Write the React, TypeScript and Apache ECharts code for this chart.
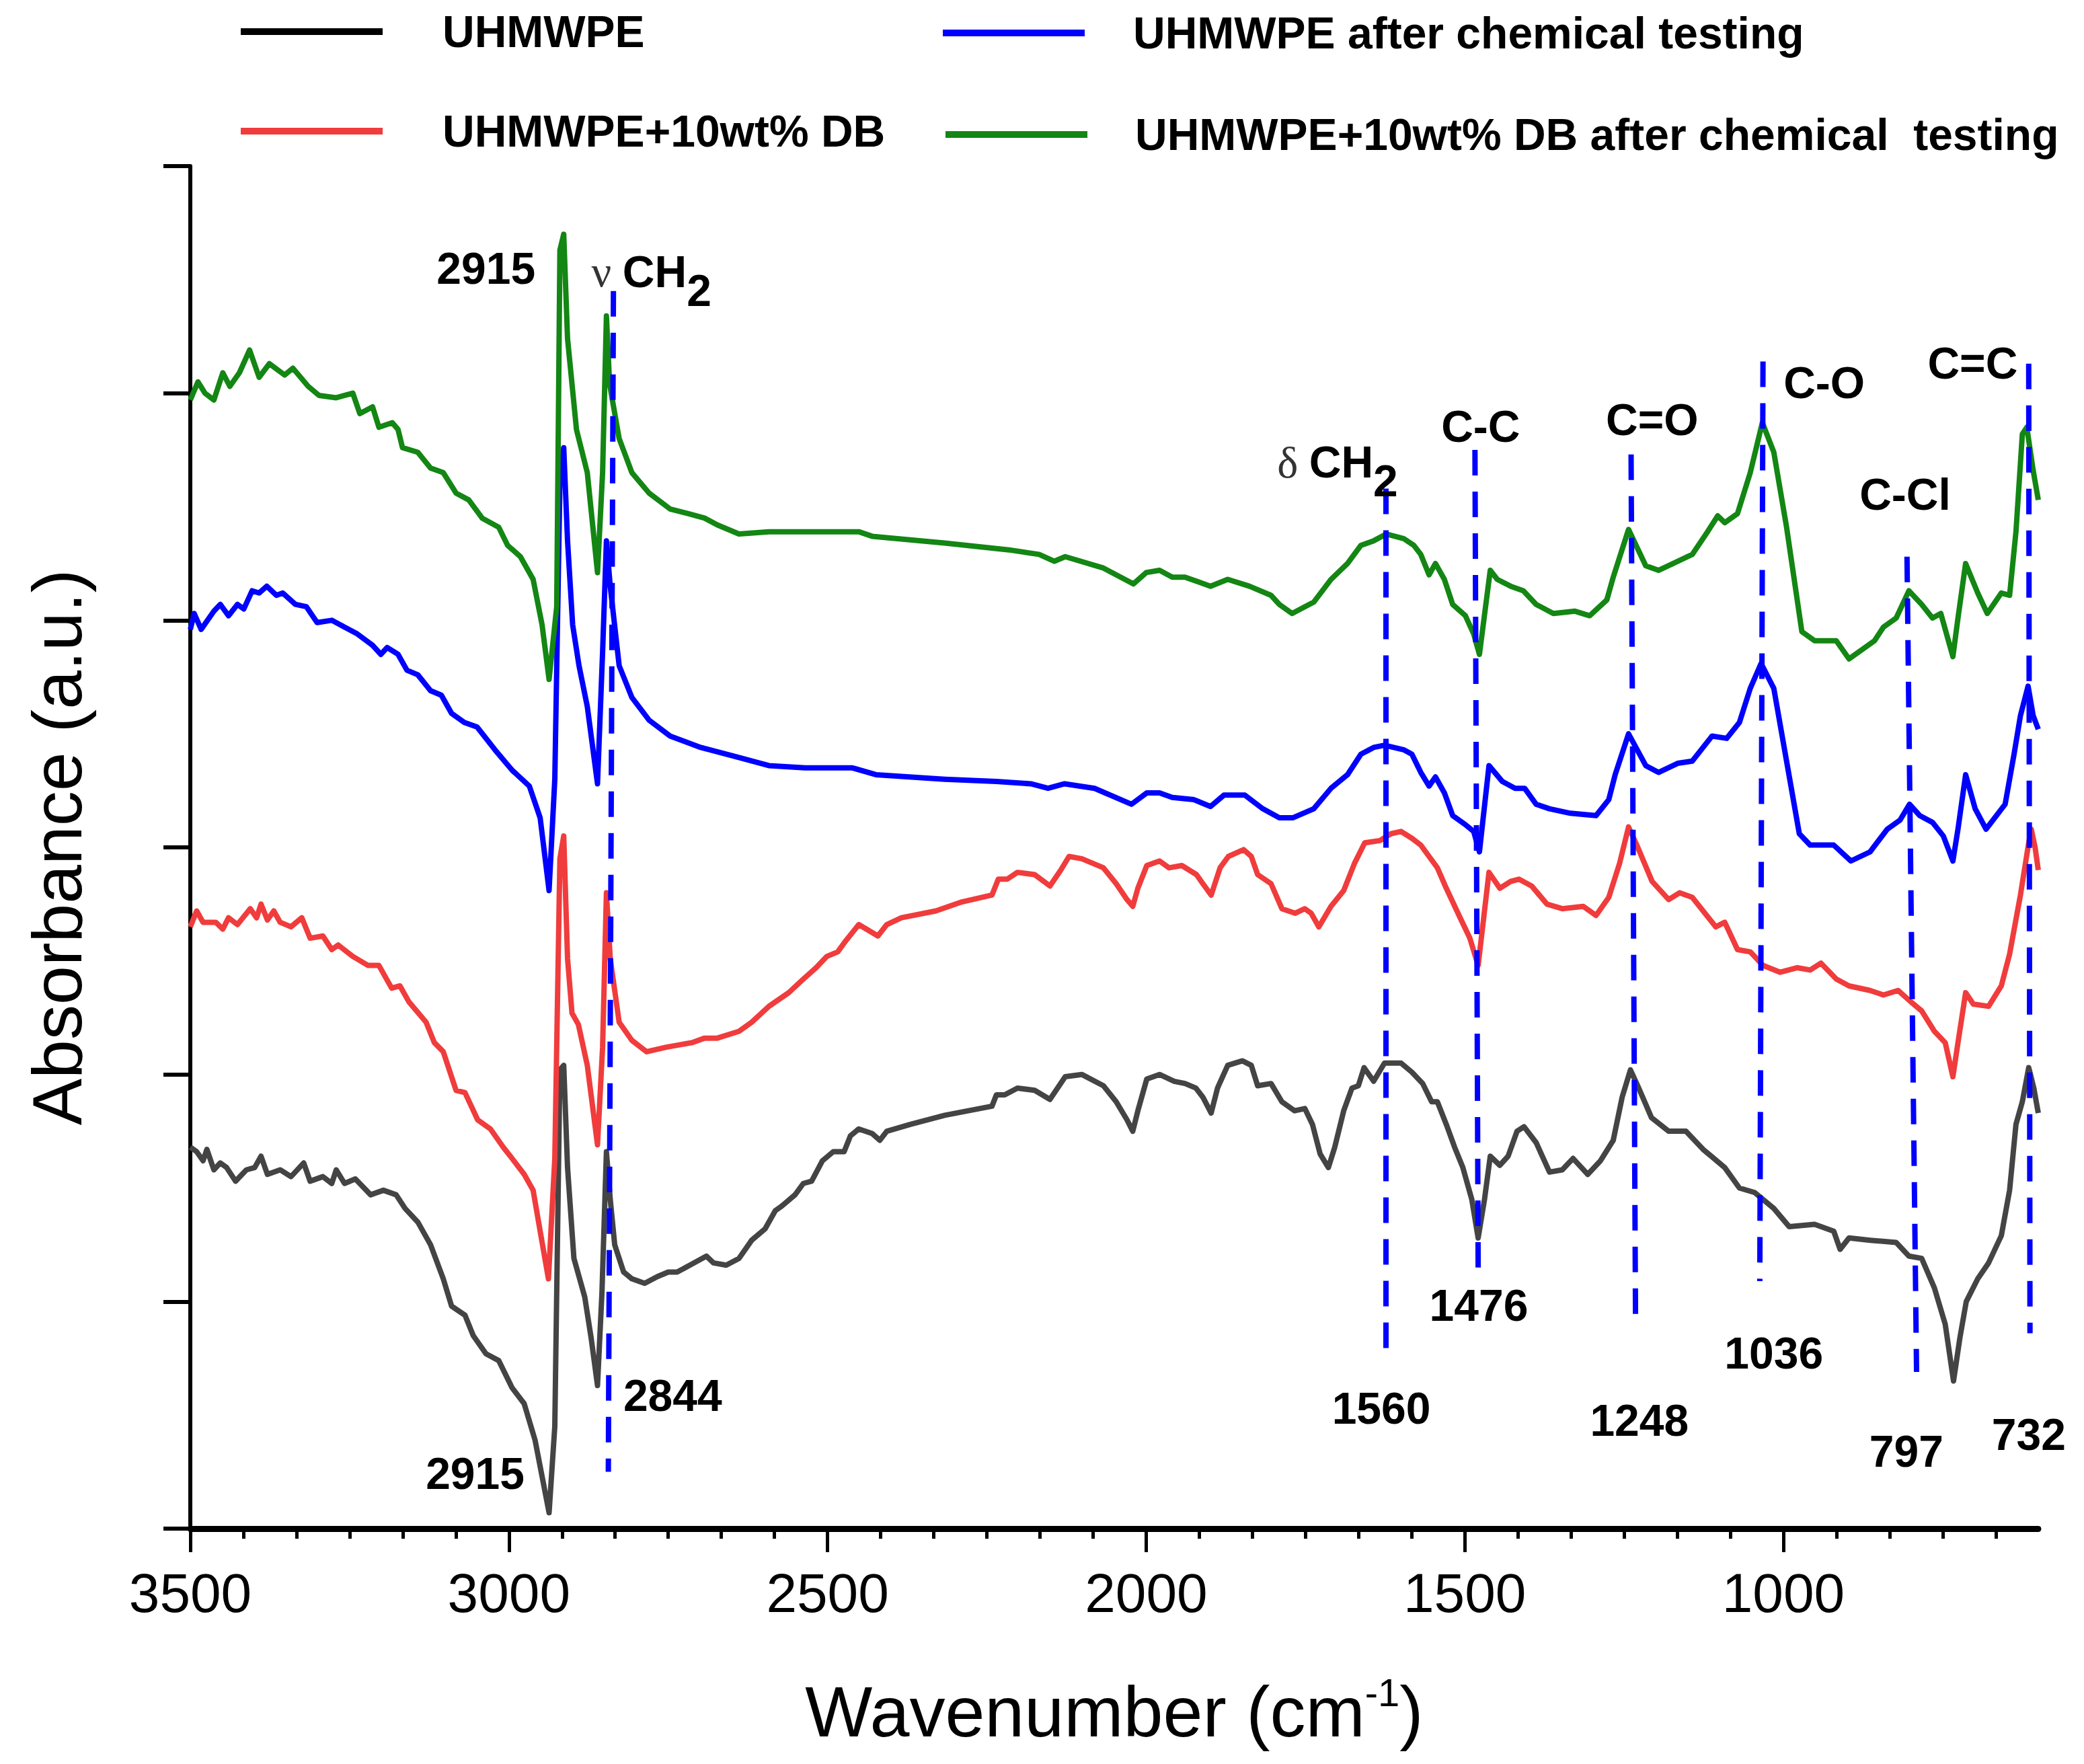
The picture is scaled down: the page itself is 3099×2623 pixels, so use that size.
import React, { useEffect, useRef } from 'react';
import * as echarts from 'echarts';

const FONT = '"Liberation Sans", Arial, Helvetica, sans-serif';

const seriesNames = [
  'UHMWPE',
  'UHMWPE+10wt% DB',
  'UHMWPE after chemical testing',
  'UHMWPE+10wt% DB after chemical  testing',
];
const seriesColors = ['#444444', '#f03c3c', '#0000ff', '#138613'];

// [wavenumber (cm-1), absorbance (a.u., stacked offsets)]
const uhmwpe: number[][] = [
  [3500, 1.68], [3490, 1.66], [3480, 1.62], [3474, 1.67], [3463, 1.58], [3453, 1.61], [3443, 1.59], [3429, 1.53],
  [3412, 1.58], [3399, 1.59], [3389, 1.64], [3379, 1.56], [3359, 1.58], [3342, 1.55], [3322, 1.61], [3312, 1.53],
  [3292, 1.55], [3278, 1.52], [3271, 1.58], [3258, 1.52], [3241, 1.54], [3217, 1.47], [3197, 1.49], [3177, 1.47],
  [3163, 1.41], [3143, 1.35], [3123, 1.25], [3103, 1.10], [3090, 0.98], [3069, 0.94], [3056, 0.85], [3036, 0.77],
  [3016, 0.74], [2995, 0.62], [2976, 0.55], [2959, 0.39], [2948, 0.23], [2937, 0.07], [2928, 0.45], [2920, 2.02],
  [2914, 2.04], [2908, 1.59], [2898, 1.19], [2881, 1.02], [2871, 0.84], [2861, 0.63], [2854, 1.04], [2847, 1.66],
  [2841, 1.45], [2834, 1.25], [2820, 1.13], [2807, 1.10], [2787, 1.08], [2767, 1.11], [2750, 1.13], [2736, 1.13],
  [2716, 1.16], [2690, 1.20], [2679, 1.17], [2659, 1.16], [2639, 1.19], [2619, 1.27], [2598, 1.32], [2582, 1.40],
  [2572, 1.42], [2551, 1.47], [2538, 1.52], [2525, 1.53], [2508, 1.62], [2491, 1.66], [2474, 1.66], [2464, 1.73],
  [2451, 1.76], [2430, 1.74], [2418, 1.71], [2407, 1.75], [2370, 1.78], [2316, 1.82], [2242, 1.86], [2235, 1.91],
  [2222, 1.91], [2202, 1.94], [2175, 1.93], [2151, 1.89], [2127, 1.99], [2101, 2.00], [2067, 1.95], [2047, 1.88],
  [2030, 1.80], [2021, 1.75], [2013, 1.84], [1999, 1.98], [1979, 2.00], [1956, 1.97], [1939, 1.96], [1922, 1.94],
  [1911, 1.90], [1898, 1.83], [1888, 1.94], [1872, 2.04], [1849, 2.06], [1835, 2.04], [1825, 1.95], [1804, 1.96],
  [1787, 1.88], [1767, 1.84], [1751, 1.85], [1739, 1.78], [1727, 1.65], [1714, 1.59], [1704, 1.68], [1690, 1.84],
  [1677, 1.94], [1667, 1.95], [1658, 2.03], [1643, 1.97], [1626, 2.05], [1600, 2.05], [1583, 2.01], [1566, 1.96],
  [1552, 1.88], [1543, 1.88], [1529, 1.78], [1516, 1.68], [1503, 1.59], [1489, 1.45], [1479, 1.28], [1469, 1.45],
  [1460, 1.64], [1445, 1.60], [1432, 1.64], [1418, 1.75], [1407, 1.77], [1388, 1.70], [1367, 1.57], [1347, 1.58],
  [1330, 1.63], [1307, 1.56], [1287, 1.62], [1267, 1.71], [1253, 1.90], [1240, 2.02], [1227, 1.94], [1207, 1.81],
  [1180, 1.75], [1153, 1.75], [1126, 1.67], [1092, 1.59], [1069, 1.50], [1045, 1.48], [1015, 1.41], [991, 1.33],
  [951, 1.34], [921, 1.31], [911, 1.23], [897, 1.28], [864, 1.27], [823, 1.26], [803, 1.20], [783, 1.19],
  [763, 1.06], [746, 0.90], [733, 0.65], [723, 0.84], [713, 1.00], [695, 1.10], [678, 1.17], [658, 1.29],
  [645, 1.49], [635, 1.78], [625, 1.88], [615, 2.03], [607, 1.94], [600, 1.83],
];

const uhmwpeDB: number[][] = [
  [3500, 2.65], [3490, 2.72], [3480, 2.67], [3460, 2.67], [3449, 2.64], [3440, 2.69], [3426, 2.66], [3406, 2.73],
  [3396, 2.69], [3389, 2.75], [3379, 2.68], [3369, 2.72], [3359, 2.67], [3342, 2.65], [3325, 2.69], [3312, 2.60],
  [3292, 2.61], [3278, 2.55], [3268, 2.57], [3245, 2.52], [3221, 2.48], [3204, 2.48], [3184, 2.38], [3171, 2.39],
  [3157, 2.32], [3130, 2.23], [3117, 2.14], [3103, 2.10], [3083, 1.93], [3069, 1.92], [3049, 1.80], [3029, 1.76],
  [3009, 1.68], [2995, 1.63], [2976, 1.56], [2962, 1.49], [2951, 1.31], [2938, 1.10], [2928, 1.63], [2920, 2.95],
  [2914, 3.05], [2908, 2.51], [2901, 2.27], [2891, 2.22], [2877, 2.04], [2861, 1.69], [2853, 2.12], [2847, 2.80],
  [2841, 2.51], [2827, 2.23], [2807, 2.15], [2784, 2.10], [2753, 2.12], [2713, 2.14], [2693, 2.16], [2673, 2.16],
  [2639, 2.19], [2619, 2.23], [2592, 2.30], [2561, 2.36], [2538, 2.42], [2518, 2.47], [2501, 2.52], [2484, 2.54],
  [2471, 2.59], [2451, 2.66], [2421, 2.61], [2407, 2.66], [2384, 2.69], [2330, 2.72], [2289, 2.76], [2242, 2.79],
  [2232, 2.86], [2218, 2.86], [2202, 2.89], [2175, 2.88], [2151, 2.83], [2134, 2.90], [2121, 2.96], [2101, 2.95],
  [2067, 2.91], [2047, 2.84], [2030, 2.77], [2021, 2.74], [2013, 2.82], [1999, 2.92], [1979, 2.94], [1964, 2.91],
  [1944, 2.92], [1921, 2.88], [1911, 2.84], [1898, 2.79], [1884, 2.91], [1871, 2.96], [1847, 2.99], [1835, 2.96],
  [1825, 2.88], [1804, 2.84], [1787, 2.73], [1766, 2.71], [1751, 2.73], [1741, 2.71], [1729, 2.65], [1710, 2.74],
  [1690, 2.81], [1673, 2.93], [1657, 3.02], [1633, 3.03], [1616, 3.06], [1600, 3.07], [1583, 3.04], [1569, 3.01],
  [1556, 2.96], [1543, 2.91], [1529, 2.82], [1509, 2.70], [1492, 2.60], [1479, 2.48], [1462, 2.89], [1445, 2.82],
  [1428, 2.85], [1415, 2.86], [1395, 2.83], [1371, 2.75], [1347, 2.73], [1314, 2.74], [1294, 2.70], [1274, 2.78],
  [1257, 2.93], [1243, 3.09], [1230, 3.01], [1206, 2.85], [1180, 2.77], [1163, 2.80], [1143, 2.78], [1126, 2.72],
  [1106, 2.65], [1092, 2.67], [1072, 2.55], [1052, 2.54], [1032, 2.48], [1005, 2.45], [978, 2.47], [958, 2.46],
  [941, 2.49], [917, 2.42], [897, 2.39], [864, 2.37], [843, 2.35], [820, 2.37], [800, 2.32], [783, 2.28],
  [763, 2.19], [746, 2.14], [734, 1.99], [726, 2.14], [714, 2.36], [702, 2.31], [678, 2.30], [658, 2.39],
  [645, 2.53], [628, 2.79], [615, 3.02], [611, 3.08], [605, 3.00], [600, 2.90],
];

const uhmwpeChem: number[][] = [
  [3500, 3.96], [3494, 4.03], [3483, 3.96], [3463, 4.04], [3453, 4.07], [3440, 4.02], [3426, 4.07], [3416, 4.05],
  [3403, 4.13], [3392, 4.12], [3380, 4.15], [3365, 4.11], [3355, 4.12], [3335, 4.07], [3318, 4.06], [3301, 3.99],
  [3278, 4.00], [3258, 3.97], [3238, 3.94], [3214, 3.89], [3201, 3.85], [3191, 3.88], [3174, 3.85], [3160, 3.78],
  [3143, 3.76], [3123, 3.69], [3106, 3.67], [3090, 3.59], [3070, 3.55], [3050, 3.53], [3022, 3.43], [2995, 3.34],
  [2968, 3.27], [2951, 3.13], [2937, 2.81], [2928, 3.30], [2920, 4.60], [2914, 4.76], [2908, 4.35], [2900, 3.98],
  [2890, 3.80], [2877, 3.62], [2869, 3.45], [2861, 3.28], [2853, 3.86], [2847, 4.35], [2841, 4.15], [2827, 3.80],
  [2807, 3.66], [2780, 3.56], [2747, 3.49], [2699, 3.44], [2645, 3.40], [2592, 3.36], [2535, 3.35], [2461, 3.35],
  [2424, 3.32], [2316, 3.30], [2235, 3.29], [2181, 3.28], [2154, 3.26], [2128, 3.28], [2081, 3.26], [2023, 3.19],
  [1999, 3.24], [1979, 3.24], [1959, 3.22], [1925, 3.21], [1899, 3.18], [1878, 3.23], [1845, 3.23], [1817, 3.17],
  [1791, 3.13], [1770, 3.13], [1737, 3.17], [1710, 3.26], [1684, 3.32], [1663, 3.41], [1643, 3.44], [1626, 3.45],
  [1596, 3.43], [1583, 3.41], [1569, 3.33], [1556, 3.27], [1546, 3.31], [1532, 3.24], [1519, 3.14], [1499, 3.10],
  [1486, 3.07], [1477, 2.98], [1462, 3.36], [1441, 3.29], [1421, 3.26], [1406, 3.26], [1388, 3.19], [1367, 3.17],
  [1334, 3.15], [1294, 3.14], [1274, 3.21], [1264, 3.32], [1243, 3.50], [1216, 3.36], [1196, 3.33], [1166, 3.37],
  [1143, 3.38], [1112, 3.49], [1089, 3.48], [1069, 3.55], [1052, 3.70], [1035, 3.81], [1015, 3.70], [995, 3.38],
  [975, 3.06], [958, 3.01], [921, 3.01], [894, 2.94], [864, 2.98], [837, 3.08], [817, 3.12], [802, 3.19],
  [786, 3.14], [766, 3.11], [749, 3.05], [734, 2.94], [726, 3.08], [714, 3.32], [699, 3.17], [682, 3.08],
  [652, 3.19], [638, 3.41], [628, 3.58], [616, 3.71], [608, 3.58], [600, 3.52],
];

const uhmwpeDBChem: number[][] = [
  [3500, 4.97], [3488, 5.05], [3477, 5.00], [3463, 4.97], [3449, 5.09], [3438, 5.03], [3423, 5.09], [3407, 5.19],
  [3392, 5.07], [3376, 5.13], [3352, 5.08], [3339, 5.11], [3315, 5.03], [3298, 4.99], [3271, 4.98], [3245, 5.00],
  [3234, 4.91], [3214, 4.94], [3204, 4.85], [3183, 4.87], [3174, 4.84], [3167, 4.76], [3143, 4.74], [3123, 4.67],
  [3103, 4.65], [3083, 4.56], [3063, 4.53], [3042, 4.45], [3016, 4.41], [3002, 4.33], [2982, 4.28], [2962, 4.18],
  [2948, 3.98], [2937, 3.74], [2925, 4.06], [2920, 5.63], [2914, 5.70], [2908, 5.24], [2894, 4.84], [2877, 4.65],
  [2861, 4.21], [2853, 4.65], [2847, 5.34], [2842, 5.04], [2827, 4.80], [2807, 4.65], [2780, 4.56], [2747, 4.49],
  [2719, 4.47], [2693, 4.45], [2673, 4.42], [2639, 4.38], [2592, 4.39], [2535, 4.39], [2451, 4.39], [2430, 4.37],
  [2316, 4.34], [2215, 4.31], [2168, 4.29], [2144, 4.26], [2127, 4.28], [2067, 4.23], [2020, 4.16], [2000, 4.21],
  [1979, 4.22], [1959, 4.19], [1939, 4.19], [1899, 4.15], [1872, 4.18], [1838, 4.15], [1804, 4.11], [1791, 4.07],
  [1771, 4.03], [1737, 4.08], [1710, 4.18], [1684, 4.25], [1663, 4.33], [1643, 4.35], [1623, 4.38], [1596, 4.36],
  [1580, 4.33], [1569, 4.29], [1556, 4.20], [1546, 4.25], [1532, 4.18], [1519, 4.07], [1499, 4.02], [1486, 3.94],
  [1477, 3.85], [1460, 4.22], [1449, 4.18], [1428, 4.15], [1408, 4.13], [1388, 4.07], [1361, 4.03], [1327, 4.04],
  [1304, 4.02], [1277, 4.09], [1267, 4.19], [1243, 4.40], [1216, 4.24], [1196, 4.22], [1173, 4.25], [1143, 4.29],
  [1119, 4.39], [1103, 4.46], [1092, 4.43], [1072, 4.47], [1052, 4.65], [1033, 4.87], [1015, 4.74], [995, 4.41],
  [971, 3.95], [951, 3.91], [917, 3.91], [897, 3.83], [857, 3.91], [843, 3.97], [823, 4.01], [803, 4.13],
  [783, 4.07], [766, 4.01], [753, 4.03], [734, 3.84], [726, 4.01], [714, 4.25], [695, 4.12], [680, 4.03],
  [658, 4.12], [645, 4.11], [635, 4.39], [625, 4.82], [618, 4.85], [608, 4.66], [600, 4.53],
];

const seriesData = [uhmwpe, uhmwpeDB, uhmwpeChem, uhmwpeDBChem];

// x-axis ticks and labels
const majorTicks = [3500, 3000, 2500, 2000, 1500, 1000];
const minorTicks = [
  3416.67, 3333.33, 3250, 3166.67, 3083.33, 2916.67, 2833.33, 2750, 2666.67, 2583.33,
  2416.67, 2333.33, 2250, 2166.67, 2083.33, 1916.67, 1833.33, 1750, 1666.67, 1583.33,
  1416.67, 1333.33, 1250, 1166.67, 1083.33, 916.67, 833.33, 750, 666.67,
];

// dashed guide lines: [wTop, yTop, wBottom, yBottom]
const peakLines: number[][] = [
  [2836, 5.45, 2844, 0.25],
  [1624, 4.58, 1624, 0.76],
  [1484, 4.75, 1479, 1.15],
  [1239, 4.73, 1232, 0.91],
  [1032, 5.14, 1037, 1.09],
  [806, 4.28, 791, 0.69],
  [615, 5.13, 613, 0.86],
];

// annotation texts with positions (w, y)
const peakLabelTexts = ['2915', '2915', '2844', '1560', 'C-C', 'C=O', 'C-O', 'C-Cl', 'C=C', '1476', '1248', '1036', '797', '732'];
const peakLabelW = [3036, 3053, 2743, 1631, 1475, 1206, 936, 809, 703, 1478, 1226, 1015, 807, 615];
const peakLabelY = [5.55, 0.243, 0.586, 0.53, 4.853, 4.883, 5.046, 4.554, 5.132, 0.983, 0.477, 0.773, 0.341, 0.415];

// group labels with subscripts: [greek, w, y]
const groupLabels: [string, number, number][] = [
  ['ν', 2871, 5.53],
  ['δ', 1795, 4.69],
];

// legend layout: [left, top, text padding-top, text padding-left]
const legendLayout: number[][] = [
  [358, 8, 12, 84],
  [358, 149, 26, 84],
  [1402, 1, 30, 67],
  [1406, 164, 6, 66],
];

export default function App() {
  const ref = useRef<HTMLDivElement>(null);
  useEffect(() => {
    document.body.style.margin = '0';
    const chart = echarts.init(ref.current!, null, { renderer: 'svg' });

    const lineSeries = seriesNames.map((name, i) => ({
      type: 'line',
      name,
      data: seriesData[i],
      showSymbol: false,
      symbol: 'none',
      lineStyle: { width: 8, color: seriesColors[i], join: 'round' },
      itemStyle: { color: i === 0 ? '#000000' : seriesColors[i] },
      z: 2,
      silent: true,
    }));

    const labelStyleBase = {
      fontFamily: FONT,
      fontSize: 66,
      fontWeight: 'bold',
      color: '#000000',
      textBorderWidth: 0,
      opacity: 1,
    };

    const legends = seriesNames.map((name, i) => ({
      data: [name],
      orient: 'vertical',
      left: legendLayout[i][0],
      top: legendLayout[i][1],
      padding: 0,
      itemWidth: 211,
      itemHeight: 10,
      icon: 'rect',
      selectedMode: false,
      textStyle: {
        fontFamily: FONT,
        fontSize: 66,
        fontWeight: 'bold',
        color: '#000',
        lineHeight: 66,
        padding: [legendLayout[i][2], 0, 0, legendLayout[i][3]],
      },
    }));

    const option: any = {
      animation: false,
      backgroundColor: '#ffffff',
      grid: { left: 283, right: 68, top: 247, bottom: 350, outerBoundsMode: 'none' },
      legend: legends,
      xAxis: [
        {
          type: 'value',
          min: 600,
          max: 3500,
          inverse: true,
          position: 'bottom',
          splitLine: { show: false },
          axisLine: { show: true, onZero: false, lineStyle: { color: '#000', width: 9 } },
          axisTick: { show: true, inside: false, length: 35, lineStyle: { color: '#000', width: 5 }, customValues: majorTicks },
          axisLabel: {
            show: true,
            customValues: majorTicks,
            formatter: (v: number) => String(v),
            margin: 54,
            fontFamily: FONT,
            fontSize: 82,
            color: '#000',
          },
          name: 'Wavenumber (cm{sup|-1})',
          nameLocation: 'middle',
          nameGap: 214,
          nameTextStyle: {
            fontFamily: FONT,
            fontSize: 106,
            color: '#000',
            lineHeight: 116,
            rich: {
              sup: { fontFamily: FONT, fontSize: 58, lineHeight: 58, color: '#000', verticalAlign: 'top' },
            },
          },
        },
        {
          type: 'value',
          min: 600,
          max: 3500,
          inverse: true,
          position: 'bottom',
          splitLine: { show: false },
          axisLine: { show: false, onZero: false },
          axisTick: { show: true, inside: false, length: 15, lineStyle: { color: '#000', width: 5 }, customValues: minorTicks },
          axisLabel: { show: false },
        },
      ],
      yAxis: {
        type: 'value',
        min: 0,
        max: 6,
        interval: 1,
        splitLine: { show: false },
        axisLine: { show: true, onZero: false, lineStyle: { color: '#000', width: 6 } },
        axisTick: { show: true, inside: false, length: 40, lineStyle: { color: '#000', width: 6 } },
        axisLabel: { show: false },
        name: 'Absorbance (a.u.)',
        nameLocation: 'middle',
        nameGap: 146,
        nameRotate: 90,
        nameTextStyle: { fontFamily: FONT, fontSize: 104, color: '#000' },
      },
      series: [
        ...lineSeries,
        {
          type: 'lines',
          name: 'peak guides',
          coordinateSystem: 'cartesian2d',
          xAxisIndex: 0,
          yAxisIndex: 0,
          silent: true,
          z: 5,
          lineStyle: { color: '#0000ff', width: 8, type: [38, 24], opacity: 1 },
          data: peakLines.map((p) => ({ coords: [[p[0], p[1]], [p[2], p[3]]] })),
        },
        {
          type: 'scatter',
          name: 'peak labels',
          silent: true,
          z: 6,
          symbolSize: 1,
          itemStyle: { color: 'rgba(255,255,255,0)' },
          data: peakLabelTexts.map((t, i) => ({
            name: t,
            value: [peakLabelW[i], peakLabelY[i]],
            label: {
              show: true,
              position: 'inside',
              formatter: '{b}',
              ...labelStyleBase,
            },
          })),
        },
        {
          type: 'scatter',
          name: 'group labels',
          silent: true,
          z: 6,
          symbolSize: 1,
          itemStyle: { color: 'rgba(255,255,255,0)' },
          data: groupLabels.map((g) => ({
            name: g[0],
            value: [g[1], g[2]],
            label: {
              show: true,
              position: 'right',
              distance: 0,
              color: '#000000',
              textBorderWidth: 0,
              formatter: '{g|' + g[0] + ' }{b|CH}{s|2}',
              rich: {
                g: { fontFamily: '"Liberation Serif", "DejaVu Serif", serif', fontSize: 66, lineHeight: 70, color: '#000', verticalAlign: 'top' },
                b: { ...labelStyleBase, lineHeight: 70, verticalAlign: 'top' },
                s: { ...labelStyleBase, lineHeight: 70, padding: [28, 0, 0, 0], verticalAlign: 'top' },
              },
            },
          })),
        },
      ],
    };

    chart.setOption(option);
    return () => chart.dispose();
  }, []);

  return <div ref={ref} style={{ width: 3099, height: 2623, background: '#fff' }} />;
}
